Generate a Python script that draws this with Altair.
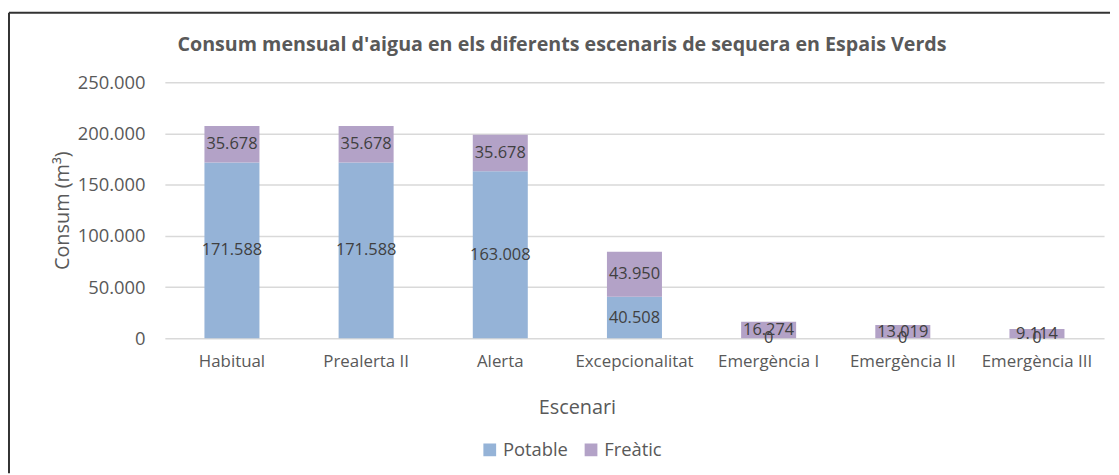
import altair as alt
import pandas as pd

categories = ["Habitual", "Prealerta II", "Alerta", "Excepcionalitat",
              "Emergència I", "Emergència II", "Emergència III"]
potable = [171588, 171588, 163008, 40508, 0, 0, 0]
freatic = [35678, 35678, 35678, 43950, 16274, 13019, 9114]
series = ["Potable", "Freàtic"]
colors = ["#95B3D7", "#B3A2C7"]
y_ticks = [0, 50000, 100000, 150000, 200000, 250000]
title_text = "Consum mensual d'aigua en els diferents escenaris de sequera en Espais Verds"

rows = []
for s_i, (name, vals) in enumerate(zip(series, [potable, freatic])):
    for c, v in zip(categories, vals):
        rows.append({"Escenari": c, "Serie": name, "valor": v, "ord": s_i,
                     "lbl": f"{v:,}".replace(",", ".")})
df = pd.DataFrame(rows)

FONT = "Open Sans"
GREY = "#595959"
W, H = 946, 258

x_enc = alt.X("Escenari:N", sort=categories,
              scale=alt.Scale(paddingInner=0.59, paddingOuter=0.295),
              axis=alt.Axis(title="Escenari", labelAngle=0, domain=False, ticks=False,
                            labelPadding=15, labelFontSize=17, labelColor=GREY,
                            labelFont=FONT, titleFont=FONT, titleFontSize=20,
                            titleFontWeight="normal", titleColor=GREY,
                            titleX=415, titleY=70, titleBaseline="middle"))

base = alt.Chart(df)

bars = base.mark_bar().encode(
    x=x_enc,
    y=alt.Y("sum(valor):Q", stack="zero",
            scale=alt.Scale(domain=[0, 250000], nice=False),
            axis=alt.Axis(title="Consum (m³)", values=y_ticks,
                          labelExpr="replace(format(datum.value, ','), ',', '.')",
                          domain=False, ticks=False, labelPadding=20,
                          labelFontSize=18.5, labelColor=GREY, labelFont=FONT,
                          gridColor="#D9D9D9", gridWidth=1.5,
                          titleFont=FONT, titleFontSize=20, titleFontWeight="normal",
                          titleColor=GREY, titleX=-103, titleY=129,
                          titleBaseline="middle")),
    color=alt.Color("Serie:N", scale=alt.Scale(domain=series, range=colors),
                    legend=alt.Legend(title=None, orient="none", legendX=318, legendY=361,
                                      direction="horizontal", symbolType="square",
                                      symbolSize=165, symbolStrokeWidth=0,
                                      labelFontSize=18.5, labelFont=FONT, labelColor=GREY,
                                      columnPadding=13)),
    order=alt.Order("ord:Q"),
)

stacked = base.transform_stack(
    stack="valor", groupby=["Escenari"], as_=["v0", "v1"],
    sort=[alt.SortField("ord", order="ascending")]
).transform_calculate(mid="(datum.v0 + datum.v1) / 2")

def labels(name):
    return stacked.transform_filter(alt.datum.Serie == name).mark_text(
        font=FONT, fontSize=16.5, color="#404040", baseline="middle", align="center"
    ).encode(x=alt.X("Escenari:N", sort=categories), y=alt.Y("mid:Q"), text="lbl:N")

frame_df = pd.DataFrame({"k": [0]})
top_rule = alt.Chart(frame_df).mark_rule(color="#333333", strokeWidth=2).encode(
    x=alt.value(-157), x2=alt.value(952), y=alt.value(-70))
left_rule = alt.Chart(frame_df).mark_rule(color="#333333", strokeWidth=2).encode(
    x=alt.value(-157), y=alt.value(-70), y2=alt.value(394))
title = alt.Chart(frame_df).mark_text(
    text=title_text, font=FONT, fontSize=19.8, fontWeight="bold", color=GREY,
    align="center", baseline="middle").encode(x=alt.value(400), y=alt.value(-37))

chart = alt.layer(bars, labels("Freàtic"), labels("Potable"), top_rule, left_rule,
                  title).properties(
    width=W, height=H,
    padding={"left": 0, "top": 2, "right": 0, "bottom": 0},
).configure_view(stroke=None)

chart.save("out.html", embed_options={"renderer": "svg", "actions": False})
